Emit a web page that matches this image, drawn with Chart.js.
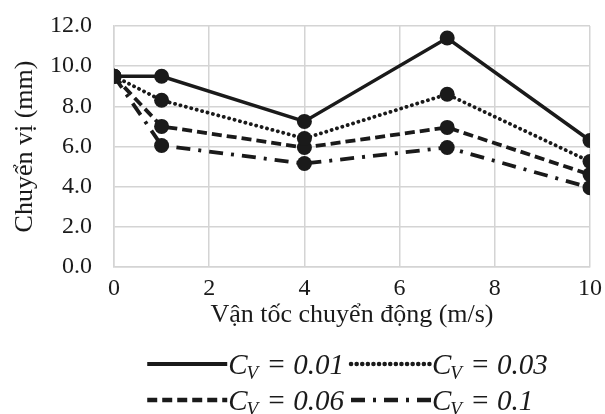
<!DOCTYPE html>
<html>
<head>
<meta charset="utf-8">
<script src="https://cdn.jsdelivr.net/npm/chart.js@4.4.1/dist/chart.umd.min.js"></script>
<style>
  html, body { margin: 0; padding: 0; background: #ffffff; }
  #wrap { width: 605px; height: 414px; position: relative; }
</style>
</head>
<body>
<div id="wrap"><canvas id="c" width="605" height="414"></canvas></div>
<script>
// ---- Data ----
const velocities = [0, 1, 4, 7, 10];           // m/s (x values)
const cvLabels   = ['0.01', '0.03', '0.06', '0.1'];
const cv001 = [9.5, 9.5, 7.25, 11.4, 6.3];
const cv003 = [9.5, 8.3, 6.4, 8.6, 5.25];
const cv006 = [9.5, 7.0, 5.95, 6.95, 4.6];
const cv010 = [9.5, 6.05, 5.15, 5.95, 3.95];
const xTickValues = [0, 2, 4, 6, 8, 10];
const yTickValues = [0, 2, 4, 6, 8, 10, 12];
const xTitle = 'Vận tốc chuyển động (m/s)';
const yTitle = 'Chuyển vị (mm)';

const FONT = "'Liberation Serif', 'Times New Roman', serif";
const INK = '#1a1a1a';
const GRID = '#d4d4d4';

function pts(arr) { return arr.map((v, i) => ({ x: velocities[i], y: v })); }

const styles = [
  { borderDash: [], borderWidth: 3.5, cap: 'butt' },
  { borderDash: [0.1, 5.5], borderWidth: 3.8, cap: 'round' },
  { borderDash: [10, 5], borderWidth: 3.8, cap: 'butt' },
  { borderDash: [14, 8, 3, 8], borderWidth: 3.8, cap: 'butt' }
];
const seriesValues = [cv001, cv003, cv006, cv010];

const datasets = seriesValues.map((vals, i) => ({
  label: 'C_V = ' + cvLabels[i],
  cvValue: cvLabels[i],
  data: pts(vals),
  borderColor: INK,
  backgroundColor: INK,
  borderWidth: styles[i].borderWidth,
  borderDash: styles[i].borderDash,
  borderCapStyle: styles[i].cap,
  pointRadius: 7.5,
  pointHoverRadius: 7.5,
  pointBackgroundColor: INK,
  pointBorderColor: INK,
  pointBorderWidth: 0,
  tension: 0,
  fill: false
}));

// Custom legend with italic C and subscript V
const legendPlugin = {
  id: 'cvLegend',
  afterDraw(chart) {
    const ctx = chart.ctx;
    const ds = chart.data.datasets;
    const big = 'italic 29px ' + FONT;
    const small = 'italic 19px ' + FONT;
    const lineLen = 80;
    const gap = 8;
    ctx.save();
    function textW(label) {
      ctx.font = big; const wC = ctx.measureText('C').width;
      ctx.font = small; const wV = ctx.measureText('V').width;
      ctx.font = big; const wR = ctx.measureText(' = ' + label).width;
      return wC + wV + wR;
    }
    const w = ds.map(d => lineLen + textW(d.cvValue));
    const col1 = Math.max(w[0], w[2]);
    const col2 = Math.max(w[1], w[3]);
    const total = col1 + gap + col2;
    const cx = (chart.chartArea.left + chart.chartArea.right) / 2 - 5;
    const x0 = cx - total / 2;
    const xs = [x0, x0 + col1 + gap];
    const ys = [364, 400];
    ds.forEach((d, i) => {
      const x = xs[i % 2];
      const y = ys[Math.floor(i / 2)];
      ctx.strokeStyle = INK;
      ctx.lineWidth = d.borderWidth + 0.7;
      ctx.lineCap = d.borderCapStyle;
      ctx.setLineDash(d.borderDash);
      ctx.beginPath();
      ctx.moveTo(x, y);
      ctx.lineTo(x + lineLen, y);
      ctx.stroke();
      ctx.setLineDash([]);
      ctx.fillStyle = INK;
      ctx.textBaseline = 'alphabetic';
      ctx.textAlign = 'left';
      let tx = x + lineLen + 1;
      const base = y + 10;
      ctx.font = big; ctx.fillText('C', tx, base); tx += ctx.measureText('C').width;
      ctx.font = small; ctx.fillText('V', tx - 1, base + 5); tx += ctx.measureText('V').width;
      ctx.font = big; ctx.fillText(' = ' + d.cvValue, tx, base);
    });
    ctx.restore();
  }
};

const bgPlugin = {
  id: 'bg',
  beforeDraw(chart) {
    const ctx = chart.ctx;
    ctx.save();
    ctx.fillStyle = '#ffffff';
    ctx.fillRect(0, 0, chart.width, chart.height);
    ctx.restore();
  }
};

new Chart(document.getElementById('c'), {
  type: 'line',
  data: { datasets },
  plugins: [bgPlugin, legendPlugin],
  options: {
    responsive: false,
    animation: false,
    layout: { padding: { top: 26, right: 10, bottom: 86, left: 0 } },
    plugins: {
      legend: { display: false },
      tooltip: { enabled: false }
    },
    scales: {
      x: {
        type: 'linear',
        min: 0, max: 10,
        afterBuildTicks(scale) { scale.ticks = xTickValues.map(v => ({ value: v })); },
        afterFit(scale) { scale.height = 61; },
        ticks: { color: INK, font: { family: FONT, size: 24, lineHeight: 1.2 }, padding: 3, maxRotation: 0 },
        grid: { color: GRID, lineWidth: 1.5, drawTicks: true, tickLength: 4, tickColor: 'rgba(0,0,0,0)' },
        border: { color: GRID, width: 1.5 },
        title: { display: true, text: xTitle, color: INK, font: { family: FONT, size: 26, lineHeight: 1.0 }, padding: { top: 0, bottom: 0 } }
      },
      y: {
        type: 'linear',
        min: 0, max: 12,
        afterBuildTicks(scale) { scale.ticks = yTickValues.map(v => ({ value: v })); },
        afterFit(scale) { scale.width = 114; },
        ticks: { color: INK, font: { family: FONT, size: 24 }, padding: 3, callback: v => Number(v).toFixed(1) },
        grid: { color: GRID, lineWidth: 1.5, drawTicks: true, tickLength: 19, tickColor: 'rgba(0,0,0,0)' },
        border: { color: GRID, width: 1.5 },
        title: { display: true, text: yTitle, color: INK, font: { family: FONT, size: 26 }, padding: { top: 10, bottom: 0 } }
      }
    }
  }
});
</script>
</body>
</html>
